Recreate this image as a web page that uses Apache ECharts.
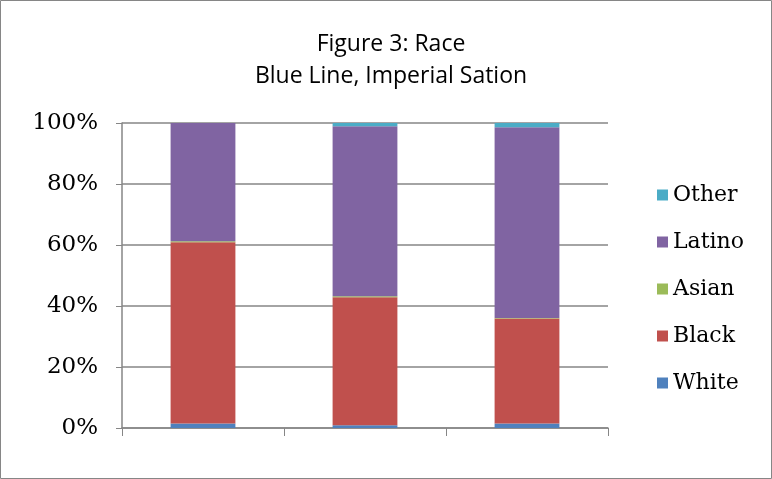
<!DOCTYPE html>
<html>
<head>
<meta charset="utf-8">
<script src="https://cdn.jsdelivr.net/npm/echarts@6/dist/echarts.min.js"></script>
<style>
  html, body { margin: 0; padding: 0; background: #fff; }
  #chart { width: 772px; height: 479px; }
</style>
</head>
<body>
<div id="chart"></div>
<script>
// Share of riders by race at three stations (percent)
const categories = ['', '', ''];
const white  = [1.5, 0.9, 1.5];
const black  = [59.4, 42.0, 34.4];
const asian  = [0.3, 0.3, 0.2];
const latino = [38.8, 55.7, 62.5];
const other  = [0.0, 1.1, 1.4];
const yTicks = [0, 20, 40, 60, 80, 100];

const colors = {
  White: '#4f81bd',
  Black: '#c0504d',
  Asian: '#9bbb59',
  Latino: '#8064a2',
  Other: '#4bacc6'
};

const seriesDefs = [
  ['White', white],
  ['Black', black],
  ['Asian', asian],
  ['Latino', latino],
  ['Other', other]
];

const chart = echarts.init(document.getElementById('chart'), null, { renderer: 'canvas' });

chart.setOption({
  animation: false,
  backgroundColor: '#fff',
  title: {
    text: 'Figure 3: Race\nBlue Line, Imperial Sation',
    left: 386,
    top: 23,
    textAlign: 'center',
    textStyle: {
      fontFamily: 'Open Sans',
      fontSize: 23,
      fontWeight: 'normal',
      color: '#000',
      lineHeight: 32
    }
  },
  legend: {
    orient: 'vertical',
    left: 652,
    top: 179,
    itemWidth: 11,
    itemHeight: 11,
    itemGap: 25,
    icon: 'rect',
    data: ['Other', 'Latino', 'Asian', 'Black', 'White'],
    textStyle: {
      fontFamily: 'DejaVu Serif',
      fontSize: 22,
      color: '#000',
      padding: [0, 0, 0, 0]
    }
  },
  grid: {
    left: 122,
    right: 164,
    top: 123,
    bottom: 51,
    containLabel: false
  },
  xAxis: {
    type: 'category',
    data: categories,
    axisLine: { lineStyle: { color: '#868686', width: 1.5 } },
    axisTick: { show: true, length: 8, lineStyle: { color: '#868686', width: 1 } },
    axisLabel: { show: false }
  },
  yAxis: {
    type: 'value',
    min: yTicks[0],
    max: yTicks[yTicks.length - 1],
    interval: 20,
    axisLine: { show: true, lineStyle: { color: '#868686', width: 1.5 } },
    axisTick: { show: true, length: 6, lineStyle: { color: '#868686' } },
    axisLabel: {
      formatter: v => v + '%',
      fontFamily: 'DejaVu Serif',
      fontSize: 23,
      color: '#000',
      margin: 24,
      padding: [4, 0, 0, 0]
    },
    splitLine: { lineStyle: { color: '#868686', width: 1.5 } }
  },
  series: seriesDefs.map(([name, data]) => ({
    name,
    type: 'bar',
    stack: 'total',
    barWidth: '40%',
    data,
    itemStyle: { color: colors[name] }
  })),
  graphic: [{
    type: 'rect',
    shape: { x: 0.5, y: 0.5, width: 771, height: 478 },
    style: { fill: 'none', stroke: '#868686', lineWidth: 1 },
    silent: true
  }]
});
</script>
</body>
</html>
